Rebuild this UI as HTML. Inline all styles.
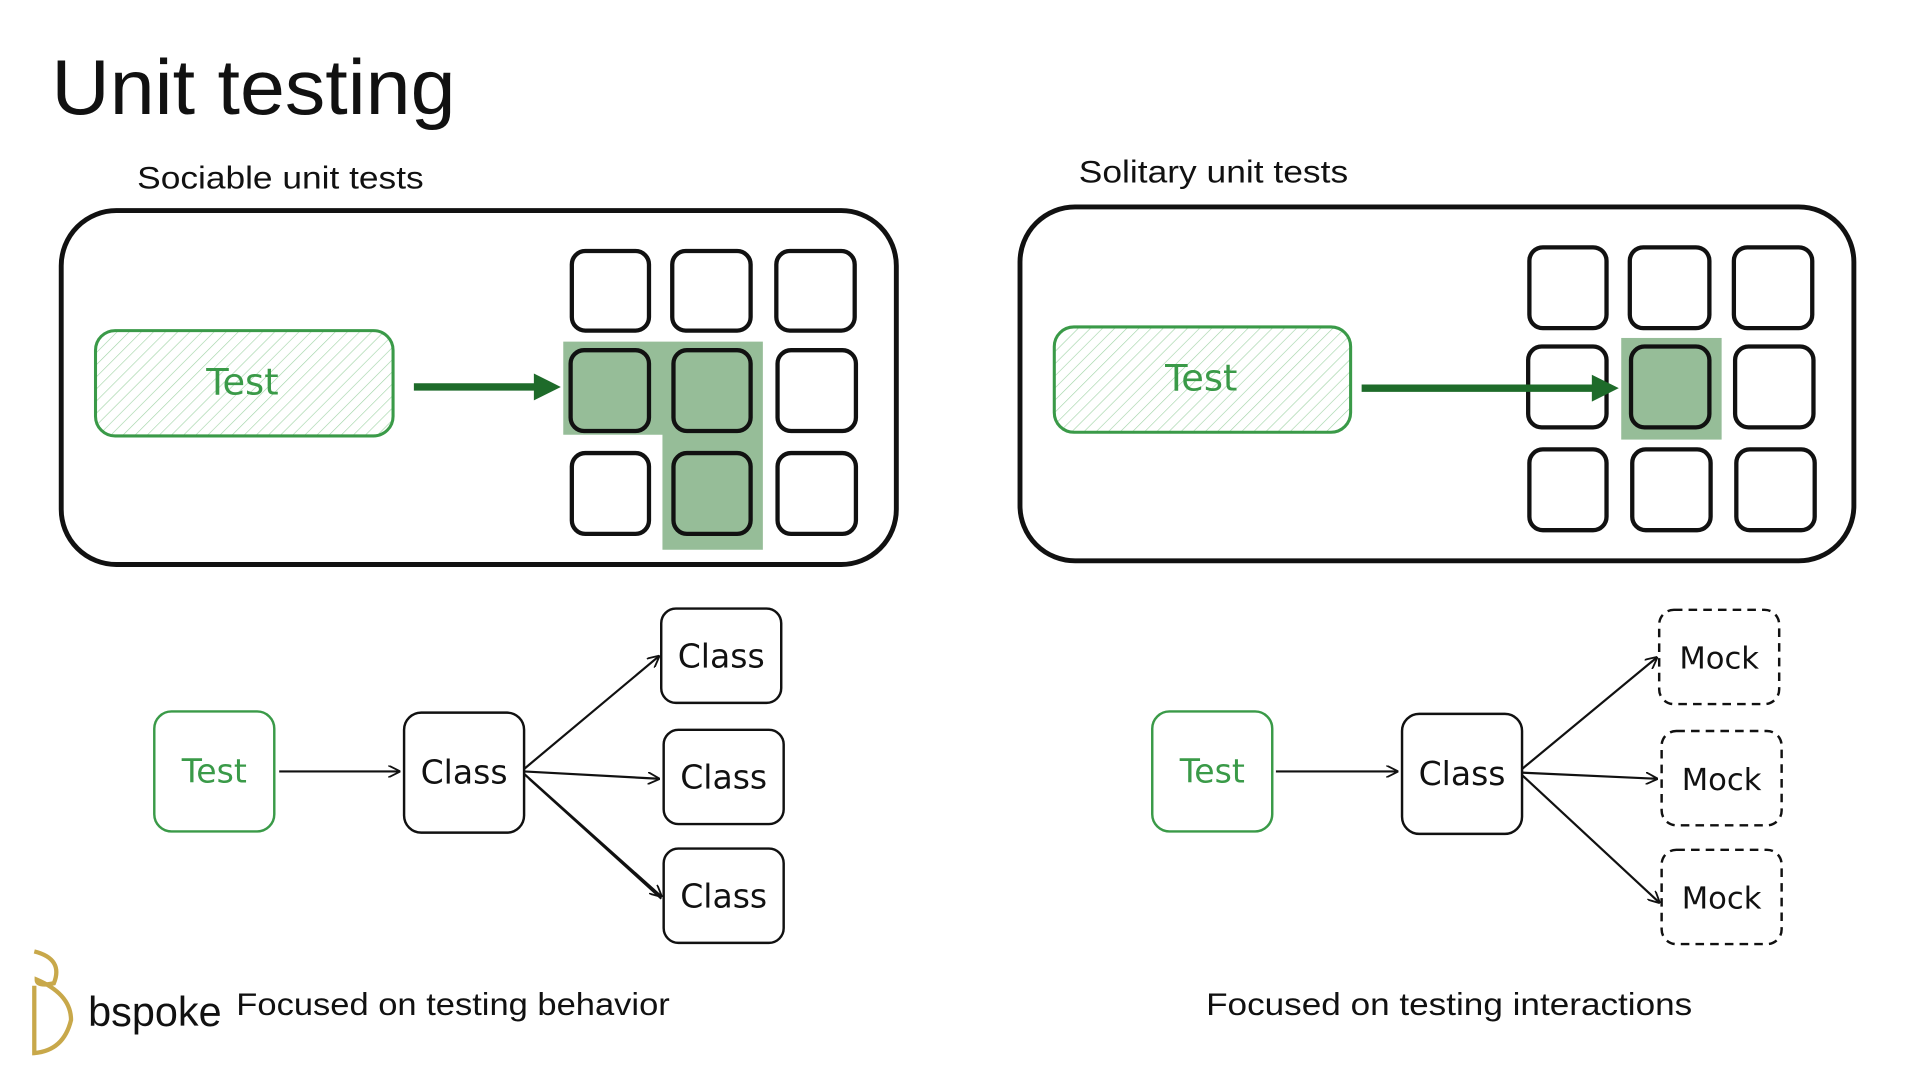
<!DOCTYPE html>
<html><head><meta charset="utf-8"><style>html,body{margin:0;padding:0;background:#fff}svg{display:block}</style></head>
<body>
<svg width="1920" height="1080" viewBox="0 0 1568 882" preserveAspectRatio="none" xmlns="http://www.w3.org/2000/svg" font-family="Liberation Sans, sans-serif">
<defs>
<pattern id="h" width="7" height="7" patternUnits="userSpaceOnUse" patternTransform="rotate(45)"><line x1="0" y1="0" x2="0" y2="7" stroke="#9fd3a5" stroke-width="1"/></pattern>
<marker id="a" markerWidth="10" markerHeight="10" refX="9" refY="5" orient="auto" markerUnits="userSpaceOnUse"><path d="M0,0 L10,5 L0,10" fill="none" stroke="#111" stroke-width="1.5"/></marker>
</defs>
<text x="42" y="93" font-size="64" fill="#111" textLength="330" lengthAdjust="spacingAndGlyphs">Unit testing</text>
<text x="112" y="154" font-size="26" fill="#111" textLength="234" lengthAdjust="spacingAndGlyphs">Sociable unit tests</text>
<text x="881" y="149" font-size="26" fill="#111" textLength="220" lengthAdjust="spacingAndGlyphs">Solitary unit tests</text>

<rect x="50" y="172" width="682" height="289" rx="45" fill="none" stroke="#111" stroke-width="4"/>
<rect x="833" y="169" width="681" height="289" rx="45" fill="none" stroke="#111" stroke-width="4"/>

<path d="M460,279 H623 V449 H541 V355 H460 Z" fill="#96bd98"/>
<rect x="1324" y="276" width="82" height="83" fill="#96bd98"/>

<g fill="none" stroke="#111" stroke-width="3.5">
<rect x="467" y="205" width="63" height="65" rx="11"/><rect x="549" y="205" width="64" height="65" rx="11"/><rect x="634" y="205" width="64" height="65" rx="11"/>
<rect x="466" y="286" width="64" height="66" rx="11"/><rect x="550" y="286" width="63" height="66" rx="11"/><rect x="635" y="286" width="64" height="66" rx="11"/>
<rect x="467" y="370" width="63" height="66" rx="11"/><rect x="550" y="370" width="63" height="66" rx="11"/><rect x="635" y="370" width="64" height="66" rx="11"/>
<rect x="1249" y="202" width="63" height="66" rx="11"/><rect x="1331" y="202" width="65" height="66" rx="11"/><rect x="1416" y="202" width="64" height="66" rx="11"/>
<rect x="1248" y="283" width="64" height="66" rx="11"/><rect x="1332" y="283" width="64" height="66" rx="11"/><rect x="1417" y="283" width="64" height="66" rx="11"/>
<rect x="1249" y="367" width="63" height="66" rx="11"/><rect x="1333" y="367" width="64" height="66" rx="11"/><rect x="1418" y="367" width="64" height="66" rx="11"/>
</g>

<rect x="78" y="270" width="243" height="86" rx="16" fill="url(#h)" stroke="#3a9a48" stroke-width="2.5"/>
<text x="198" y="322" font-size="30" fill="#3a9a48" text-anchor="middle" font-family="DejaVu Sans, sans-serif">Test</text>
<rect x="861" y="267" width="242" height="86" rx="16" fill="url(#h)" stroke="#3a9a48" stroke-width="2.5"/>
<text x="981" y="319" font-size="30" fill="#3a9a48" text-anchor="middle" font-family="DejaVu Sans, sans-serif">Test</text>

<line x1="338" y1="316" x2="438" y2="316" stroke="#1e6b2a" stroke-width="6"/>
<path d="M436,305 L458,316 L436,327 Z" fill="#1e6b2a"/>
<line x1="1112" y1="317" x2="1302" y2="317" stroke="#1e6b2a" stroke-width="6"/>
<path d="M1300,306 L1322,317 L1300,328 Z" fill="#1e6b2a"/>

<g font-family="DejaVu Sans, sans-serif" font-size="27" text-anchor="middle">
<rect x="126" y="581" width="98" height="98" rx="14" fill="none" stroke="#3a9a48" stroke-width="2"/>
<text x="175" y="639" fill="#3a9a48">Test</text>
<rect x="330" y="582" width="98" height="98" rx="14" fill="none" stroke="#111" stroke-width="2"/>
<text x="379" y="640" fill="#111">Class</text>
<rect x="540" y="497" width="98" height="77" rx="12" fill="none" stroke="#111" stroke-width="2"/>
<text x="589" y="545" fill="#111">Class</text>
<rect x="542" y="596" width="98" height="77" rx="12" fill="none" stroke="#111" stroke-width="2"/>
<text x="591" y="644" fill="#111">Class</text>
<rect x="542" y="693" width="98" height="77" rx="12" fill="none" stroke="#111" stroke-width="2"/>
<text x="591" y="741" fill="#111">Class</text>

<rect x="941" y="581" width="98" height="98" rx="14" fill="none" stroke="#3a9a48" stroke-width="2"/>
<text x="990" y="639" fill="#3a9a48">Test</text>
<rect x="1145" y="583" width="98" height="98" rx="14" fill="none" stroke="#111" stroke-width="2"/>
<text x="1194" y="641" fill="#111">Class</text>
<g fill="none" stroke="#111" stroke-width="2" stroke-dasharray="7,5">
<rect x="1355" y="498" width="98" height="77" rx="12"/>
<rect x="1357" y="597" width="98" height="77" rx="12"/>
<rect x="1357" y="694" width="98" height="77" rx="12"/>
</g>
<text x="1404" y="546" fill="#111" font-size="25">Mock</text>
<text x="1406" y="645" fill="#111" font-size="25">Mock</text>
<text x="1406" y="742" fill="#111" font-size="25">Mock</text>
</g>
<g stroke="#111" stroke-width="1.8" fill="none" marker-end="url(#a)">
<line x1="228" y1="630" x2="326" y2="630"/>
<line x1="428" y1="628" x2="538" y2="536"/>
<line x1="428" y1="630" x2="538" y2="636"/>
<line x1="428" y1="632" x2="540" y2="732"/>
<line x1="1042" y1="630" x2="1141" y2="630"/>
<line x1="1243" y1="628" x2="1353" y2="537"/>
<line x1="1243" y1="631" x2="1353" y2="636"/>
<line x1="1243" y1="633" x2="1355" y2="737"/>
</g>
<line x1="432" y1="636" x2="540" y2="734" stroke="#111" stroke-width="1.5"/>

<path d="M28,777 Q52,783 44,803 Q30,806 30,800 Q58,812 58,833 Q52,858 28,860 L28,805" fill="none" stroke="#c8a84a" stroke-width="3.5"/>
<text x="72" y="838" font-size="34" fill="#111" textLength="109" lengthAdjust="spacingAndGlyphs">bspoke</text>
<text x="193" y="829" font-size="26" fill="#111" textLength="354" lengthAdjust="spacingAndGlyphs">Focused on testing behavior</text>
<text x="985" y="829" font-size="26" fill="#111" textLength="397" lengthAdjust="spacingAndGlyphs">Focused on testing interactions</text>
</svg>
</body></html>
